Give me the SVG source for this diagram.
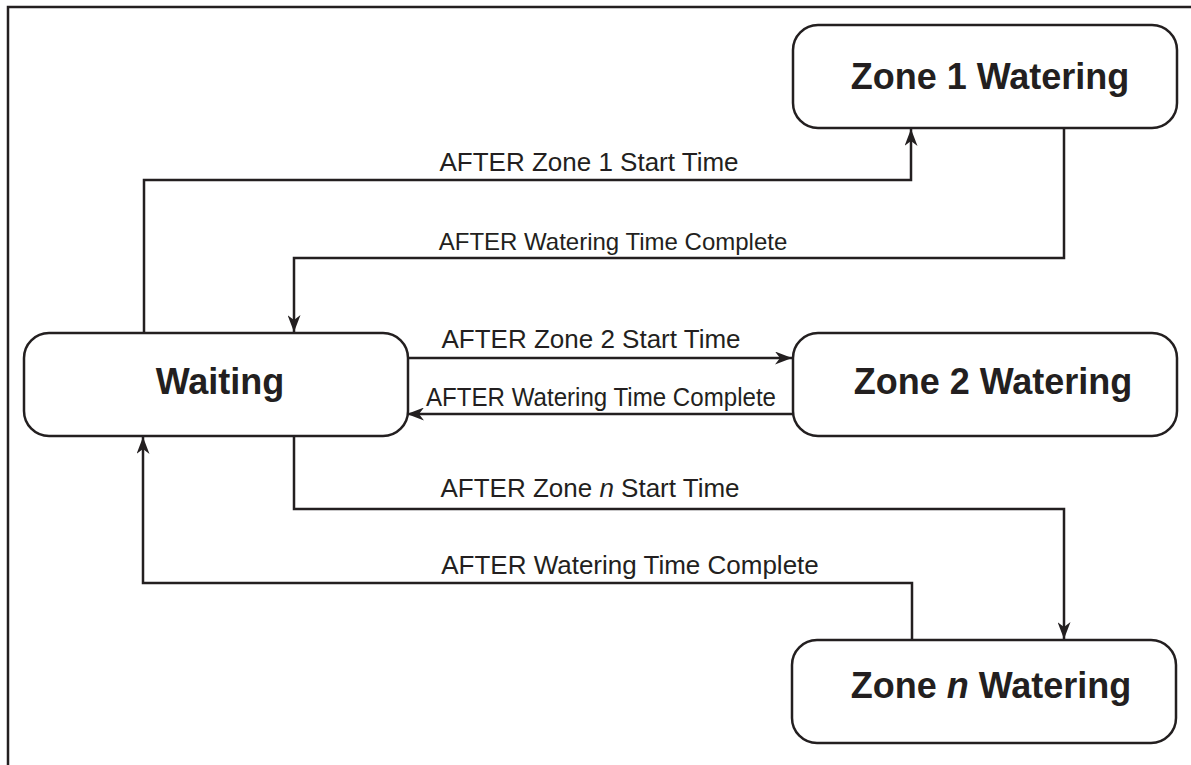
<svg xmlns="http://www.w3.org/2000/svg" width="1191" height="765" viewBox="0 0 1191 765">
<style>
.node{fill:#fff;stroke:#231f20;stroke-width:2.5}
.nt{font-family:"Liberation Sans",Arial,sans-serif;font-weight:bold;font-size:36px;fill:#231f20;text-anchor:middle}
.el{font-family:"Liberation Sans",Arial,sans-serif;font-size:26px;fill:#231f20;text-anchor:middle}
.c{fill:none;stroke:#231f20;stroke-width:2.5;marker-end:url(#ah)}
</style>
<defs>
<marker id="ah" markerUnits="userSpaceOnUse" viewBox="0 0 17 13" refX="17" refY="6.5" markerWidth="17" markerHeight="13" orient="auto">
<path d="M0,0 L17,6.5 L0,13 L5,6.5 Z" fill="#231f20"/>
</marker>
</defs>
<rect width="1191" height="765" fill="#fff"/>
<path d="M8,765 V7 H1191" fill="none" stroke="#231f20" stroke-width="2.5"/>
<g id="connectors">
<path class="c" d="M144,333 V180 H911 V129"/>
<path class="c" d="M1064,128 V258 H294 V332"/>
<path class="c" d="M406,358 H792"/>
<path class="c" d="M793,414 H407"/>
<path class="c" d="M294,436 V509 H1064 V639"/>
<path class="c" d="M912,640 V583 H143 V437"/>
<text class="el" x="589" y="171">AFTER Zone 1 Start Time</text>
<text class="el" x="613" y="250" style="font-size:24px">AFTER Watering Time Complete</text>
<text class="el" x="591" y="348">AFTER Zone 2 Start Time</text>
<text class="el" x="426" y="406" style="text-anchor:start" textLength="350" lengthAdjust="spacingAndGlyphs">AFTER Watering Time Complete</text>
<text class="el" x="590" y="497">AFTER Zone <tspan font-style="italic">n</tspan> Start Time</text>
<text class="el" x="630" y="574">AFTER Watering Time Complete</text>
</g>
<g id="zone1">
<rect class="node" x="793" y="25" width="384" height="103" rx="25"/>
<text class="nt" x="990" y="89">Zone 1 Watering</text>
</g>
<g id="waiting">
<rect class="node" x="24" y="333" width="384" height="103" rx="25"/>
<text class="nt" x="220" y="394">Waiting</text>
</g>
<g id="zone2">
<rect class="node" x="793" y="333" width="384" height="103" rx="25"/>
<text class="nt" x="993" y="394">Zone 2 Watering</text>
</g>
<g id="zonen">
<rect class="node" x="792" y="640" width="384" height="103" rx="25"/>
<text class="nt" x="991" y="698">Zone <tspan font-style="italic">n</tspan> Watering</text>
</g>
</svg>
